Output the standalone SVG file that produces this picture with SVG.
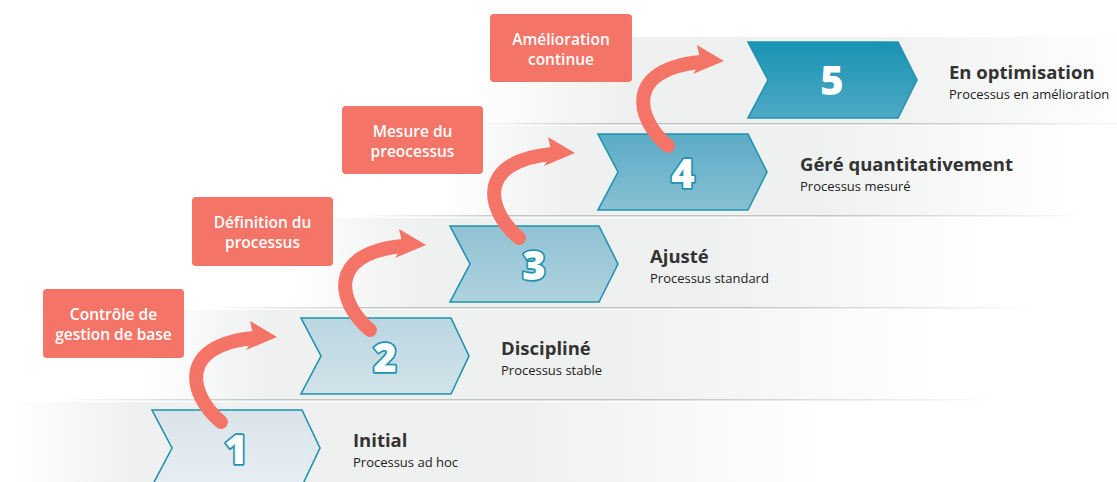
<svg xmlns="http://www.w3.org/2000/svg" width="1117" height="482" viewBox="0 0 1117 482">
<style>
.hd{font-family:"Open Sans","Noto Sans",sans-serif;font-weight:700;font-size:18.5px;fill:#333}
.sb{font-family:"Open Sans","Noto Sans",sans-serif;font-size:13px;fill:#222}
.bx{fill:#f47467}
.bt{font-family:"Open Sans","Noto Sans",sans-serif;font-weight:600;font-size:15.5px;fill:#fff;text-anchor:middle}
.ch{stroke:#2192b0;stroke-width:1.6;stroke-linejoin:miter}
.num{font-family:"Open Sans","Noto Sans",sans-serif;font-weight:800;font-size:40px;fill:#fff;text-anchor:middle;stroke:#2192b0;stroke-width:3.5;paint-order:stroke;stroke-linejoin:round}
.shaft{fill:none;stroke:#f47467;stroke-width:14;stroke-linecap:round}
.head{fill:#f47467}
</style>
<defs>
<linearGradient id="b1" gradientUnits="userSpaceOnUse" x1="10" y1="0" x2="830" y2="0"><stop offset="0" stop-color="#eff0f0" stop-opacity="0"/><stop offset="0.15" stop-color="#eff0f0"/><stop offset="0.63" stop-color="#eff0f0"/><stop offset="1" stop-color="#eff0f0" stop-opacity="0"/></linearGradient>
<linearGradient id="b2" gradientUnits="userSpaceOnUse" x1="140" y1="0" x2="940" y2="0"><stop offset="0" stop-color="#eff0f0" stop-opacity="0"/><stop offset="0.16" stop-color="#eff0f0"/><stop offset="0.6" stop-color="#eff0f0"/><stop offset="1" stop-color="#eff0f0" stop-opacity="0"/></linearGradient>
<linearGradient id="b3" gradientUnits="userSpaceOnUse" x1="290" y1="0" x2="990" y2="0"><stop offset="0" stop-color="#eff0f0" stop-opacity="0"/><stop offset="0.18" stop-color="#eff0f0"/><stop offset="0.6" stop-color="#eff0f0"/><stop offset="1" stop-color="#eff0f0" stop-opacity="0"/></linearGradient>
<linearGradient id="b4" gradientUnits="userSpaceOnUse" x1="440" y1="0" x2="1070" y2="0"><stop offset="0" stop-color="#eff0f0" stop-opacity="0"/><stop offset="0.2" stop-color="#eff0f0"/><stop offset="0.6" stop-color="#eff0f0"/><stop offset="1" stop-color="#eff0f0" stop-opacity="0"/></linearGradient>
<linearGradient id="b5" gradientUnits="userSpaceOnUse" x1="470" y1="0" x2="1140" y2="0"><stop offset="0" stop-color="#eff0f0" stop-opacity="0"/><stop offset="0.22" stop-color="#eff0f0"/><stop offset="0.6" stop-color="#eff0f0"/><stop offset="1" stop-color="#eff0f0" stop-opacity="0"/></linearGradient>
<linearGradient id="l2" gradientUnits="userSpaceOnUse" x1="60" y1="0" x2="1000" y2="0"><stop offset="0" stop-color="#c4c4c4" stop-opacity="0"/><stop offset="0.2" stop-color="#c4c4c4"/><stop offset="0.65" stop-color="#c4c4c4"/><stop offset="1" stop-color="#c4c4c4" stop-opacity="0"/></linearGradient>
<linearGradient id="l3" gradientUnits="userSpaceOnUse" x1="210" y1="0" x2="1040" y2="0"><stop offset="0" stop-color="#c4c4c4" stop-opacity="0"/><stop offset="0.2" stop-color="#c4c4c4"/><stop offset="0.65" stop-color="#c4c4c4"/><stop offset="1" stop-color="#c4c4c4" stop-opacity="0"/></linearGradient>
<linearGradient id="l4" gradientUnits="userSpaceOnUse" x1="360" y1="0" x2="1090" y2="0"><stop offset="0" stop-color="#c4c4c4" stop-opacity="0"/><stop offset="0.2" stop-color="#c4c4c4"/><stop offset="0.65" stop-color="#c4c4c4"/><stop offset="1" stop-color="#c4c4c4" stop-opacity="0"/></linearGradient>
<linearGradient id="l5" gradientUnits="userSpaceOnUse" x1="470" y1="0" x2="1140" y2="0"><stop offset="0" stop-color="#c4c4c4" stop-opacity="0"/><stop offset="0.2" stop-color="#c4c4c4"/><stop offset="0.65" stop-color="#c4c4c4"/><stop offset="1" stop-color="#c4c4c4" stop-opacity="0"/></linearGradient>
<linearGradient id="c1" x1="0" y1="0" x2="0" y2="1"><stop offset="0" stop-color="#d9e4ea"/><stop offset="1" stop-color="#e7eef2"/></linearGradient>
<linearGradient id="c2" x1="0" y1="0" x2="0" y2="1"><stop offset="0" stop-color="#bad7e1"/><stop offset="1" stop-color="#d2e3ea"/></linearGradient>
<linearGradient id="c3" x1="0" y1="0" x2="0" y2="1"><stop offset="0" stop-color="#8fc2d3"/><stop offset="1" stop-color="#b0d2de"/></linearGradient>
<linearGradient id="c4" x1="0" y1="0" x2="0" y2="1"><stop offset="0" stop-color="#5aacc6"/><stop offset="1" stop-color="#89c0d2"/></linearGradient>
<linearGradient id="c5" x1="0" y1="0" x2="0" y2="1"><stop offset="0" stop-color="#1893b4"/><stop offset="1" stop-color="#4fa9c4"/></linearGradient>
<g id="arrow">
<path class="shaft" d="M221 422 C188 394 178 345 254 338"/>
<polygon class="head" points="277,337 250,321 254,338 246,350"/>
</g>
</defs>

<g id="bands">
<rect x="10" y="402" width="820" height="80" fill="url(#b1)"/>
<rect x="140" y="310" width="800" height="89" fill="url(#b2)"/>
<rect x="60" y="399" width="940" height="1.5" fill="url(#l2)"/>
<rect x="290" y="218" width="700" height="89" fill="url(#b3)"/>
<rect x="210" y="307" width="830" height="1.5" fill="url(#l3)"/>
<rect x="440" y="126" width="630" height="89" fill="url(#b4)"/>
<rect x="360" y="215" width="730" height="1.5" fill="url(#l4)"/>
<rect x="470" y="37" width="670" height="86" fill="url(#b5)"/>
<rect x="470" y="123" width="670" height="1.5" fill="url(#l5)"/>
</g>

<g id="level1">
<polygon class="ch" fill="url(#c1)" points="152,410 302,410 320,448 302,486 152,486 172,448"/>
<text class="num" x="236" y="464">1</text>
<text class="hd" x="353" y="447">Initial</text>
<text class="sb" x="353" y="467">Processus ad hoc</text>
</g>
<g id="level2">
<polygon class="ch" fill="url(#c2)" points="301,318 451,318 469,356 451,394 301,394 321,356"/>
<text class="num" x="385" y="372">2</text>
<text class="hd" x="501" y="355">Discipliné</text>
<text class="sb" x="501" y="375">Processus stable</text>
</g>
<g id="level3">
<polygon class="ch" fill="url(#c3)" points="450,226 599,226 618,264 599,302 450,302 470,264"/>
<text class="num" x="534" y="280">3</text>
<text class="hd" x="650" y="263">Ajusté</text>
<text class="sb" x="650" y="283">Processus standard</text>
</g>
<g id="level4">
<polygon class="ch" fill="url(#c4)" points="598,134 748,134 767,172 748,210 598,210 618,172"/>
<text class="num" x="683" y="188">4</text>
<text class="hd" x="800" y="171">Géré quantitativement</text>
<text class="sb" x="800" y="191">Processus mesuré</text>
</g>
<g id="level5">
<polygon class="ch" fill="url(#c5)" points="748,42 898,42 917,80 898,118 748,118 768,80"/>
<text class="num" x="832" y="95" style="stroke:none">5</text>
<text class="hd" x="949" y="79">En optimisation</text>
<text class="sb" x="949" y="99">Processus en amélioration</text>
</g>

<g id="connectors">
<use href="#arrow"/>
<use href="#arrow" transform="translate(149,-92)"/>
<use href="#arrow" transform="translate(298,-184)"/>
<use href="#arrow" transform="translate(447,-276)"/>
</g>

<g id="box1">
<rect class="bx" x="43" y="289" width="141" height="69" rx="4"/>
<text class="bt" x="113.5" y="320">Contrôle de</text>
<text class="bt" x="113.5" y="340">gestion de base</text>
</g>
<g id="box2">
<rect class="bx" x="192" y="197" width="141" height="69" rx="4"/>
<text class="bt" x="262.5" y="228">Définition du</text>
<text class="bt" x="262.5" y="248">processus</text>
</g>
<g id="box3">
<rect class="bx" x="342" y="106" width="141" height="68" rx="4"/>
<text class="bt" x="412.5" y="137">Mesure du</text>
<text class="bt" x="412.5" y="157">preocessus</text>
</g>
<g id="box4">
<rect class="bx" x="490" y="14" width="142" height="68" rx="4"/>
<text class="bt" x="561" y="45">Amélioration</text>
<text class="bt" x="561" y="65">continue</text>
</g>
</svg>
